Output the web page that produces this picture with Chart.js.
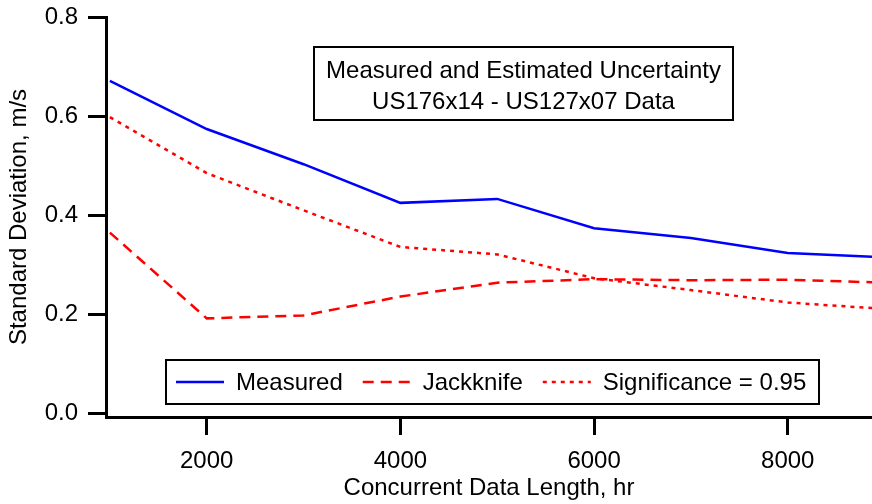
<!DOCTYPE html>
<html>
<head>
<meta charset="utf-8">
<script src="https://cdn.jsdelivr.net/npm/chart.js@4/dist/chart.umd.min.js"></script>
<style>
  html, body { margin: 0; padding: 0; background: #fff; }
  #wrap { width: 872px; height: 504px; position: relative; }
</style>
</head>
<body>
<div id="wrap"><canvas id="uncertainty"></canvas></div>
<script>
// concurrent data length (hr) and standard deviations (m/s)
const lengths      = [1000, 2000, 3000, 4000, 5000, 6000, 7000, 8000, 9000];
const measured     = [0.671, 0.574, 0.503, 0.425, 0.433, 0.374, 0.354, 0.324, 0.315];
const jackknife    = [0.365, 0.192, 0.198, 0.236, 0.264, 0.271, 0.269, 0.270, 0.264];
const significance = [0.598, 0.485, 0.410, 0.336, 0.321, 0.273, 0.249, 0.224, 0.211];

const seriesNames = ['Measured', 'Jackknife', 'Significance = 0.95'];
const xTicks = [2000, 4000, 6000, 8000];
const yTicks = [0.0, 0.2, 0.4, 0.6, 0.8];
const titleLines = ['Measured and Estimated Uncertainty', 'US176x14 - US127x07 Data'];

const FONT = "'Liberation Sans', Arial, sans-serif";

function pts(ys) {
  return lengths.map((x, i) => ({ x: x, y: ys[i] }));
}

// boxed annotation and legend drawn inside the plot
const boxes = {
  id: 'boxes',
  afterDraw(chart) {
    const ctx = chart.ctx;
    ctx.save();

    // title box
    ctx.fillStyle = '#fff';
    ctx.strokeStyle = '#000';
    ctx.lineWidth = 2;
    ctx.fillRect(314, 47, 419, 73);
    ctx.strokeRect(314, 47, 419, 73);
    ctx.fillStyle = '#000';
    ctx.font = '24px ' + FONT;
    ctx.textAlign = 'center';
    ctx.textBaseline = 'middle';
    ctx.fillText(titleLines[0], 523.5, 71);
    ctx.fillText(titleLines[1], 523.5, 102);

    // legend box
    ctx.fillStyle = '#fff';
    ctx.fillRect(166, 360, 653, 44);
    ctx.strokeRect(166, 360, 653, 44);
    ctx.textAlign = 'left';
    let x = 176;
    const y = 382;
    chart.data.datasets.forEach(ds => {
      ctx.strokeStyle = ds.borderColor;
      ctx.lineWidth = ds.borderWidth;
      ctx.setLineDash(ds.borderDash || []);
      ctx.beginPath();
      ctx.moveTo(x, y);
      ctx.lineTo(x + 48, y);
      ctx.stroke();
      ctx.setLineDash([]);
      ctx.fillStyle = '#000';
      ctx.fillText(ds.label, x + 60, y + 1);
      x += 60 + ctx.measureText(ds.label).width + 20;
    });
    ctx.restore();
  }
};

new Chart(document.getElementById('uncertainty'), {
  type: 'line',
  data: {
    datasets: [{
      label: seriesNames[0],
      data: pts(measured),
      borderColor: '#0000ff',
      borderWidth: 2.5,
      pointRadius: 0,
      tension: 0
    }, {
      label: seriesNames[1],
      data: pts(jackknife),
      borderColor: '#ff0000',
      borderWidth: 2.5,
      borderDash: [11, 7],
      pointRadius: 0,
      tension: 0
    }, {
      label: seriesNames[2],
      data: pts(significance),
      borderColor: '#ff0000',
      borderWidth: 2.5,
      borderDash: [4, 5],
      pointRadius: 0,
      tension: 0
    }]
  },
  options: {
    responsive: true,
    maintainAspectRatio: false,
    animation: false,
    layout: { padding: { top: 17, right: 0, left: 0, bottom: 0 } },
    plugins: {
      legend: { display: false },
      tooltip: { enabled: false }
    },
    scales: {
      x: {
        type: 'linear',
        min: 960,
        max: 8870,
        afterFit(scale) {
          scale.height = 87;
          scale.paddingLeft = 0;
          scale.paddingRight = 0;
        },
        afterBuildTicks(scale) { scale.ticks = xTicks.map(v => ({ value: v })); },
        border: { display: true, color: '#000', width: 3 },
        grid: { drawOnChartArea: false, tickLength: 18, tickWidth: 3, tickColor: '#000' },
        ticks: {
          color: '#000',
          font: { family: FONT, size: 24 },
          padding: 12,
          maxRotation: 0,
          callback: v => String(v)
        },
        title: {
          display: true,
          text: 'Concurrent Data Length, hr',
          color: '#000',
          font: { family: FONT, size: 24, lineHeight: 1 },
          padding: { top: 0, bottom: 4 }
        }
      },
      y: {
        min: -0.007,
        max: 0.8,
        afterFit(scale) {
          scale.width = 106;
          scale.paddingTop = 0;
          scale.paddingBottom = 0;
        },
        afterBuildTicks(scale) { scale.ticks = yTicks.map(v => ({ value: v })); },
        border: { display: true, color: '#000', width: 3 },
        grid: { drawOnChartArea: false, tickLength: 18, tickWidth: 3, tickColor: '#000' },
        ticks: {
          color: '#000',
          font: { family: FONT, size: 24 },
          padding: 10,
          callback: v => v.toFixed(1)
        },
        title: {
          display: true,
          text: 'Standard Deviation, m/s',
          color: '#000',
          font: { family: FONT, size: 24, lineHeight: 1 },
          padding: { top: 7, bottom: 0 }
        }
      }
    }
  },
  plugins: [boxes]
});
</script>
</body>
</html>
